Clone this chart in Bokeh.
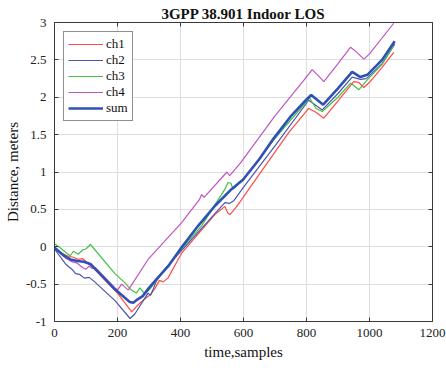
from bokeh.plotting import figure
from bokeh.models import Range1d, LinearAxis, FixedTicker
from bokeh.embed import file_html
from bokeh.resources import INLINE

# ---- data ----
ch1_x = [0, 20, 40, 60, 75, 90, 105, 120, 200, 245, 260, 280, 305, 320, 333, 345, 360, 403,
         509, 541, 550, 557, 575, 599, 622, 744, 807, 830, 855, 900, 950, 965, 982, 1000, 1040, 1077]
ch1_y = [-0.02, -0.08, -0.12, -0.14, -0.17, -0.16, -0.22, -0.27, -0.62, -0.87, -0.80, -0.72, -0.64,
         -0.55, -0.45, -0.47, -0.42, -0.09, 0.43, 0.54, 0.45, 0.43, 0.52, 0.66, 0.80, 1.53, 1.85,
         1.80, 1.72, 1.95, 2.21, 2.20, 2.13, 2.20, 2.40, 2.60]

ch2_x = [0, 35, 55, 67, 80, 95, 110, 125, 192, 240, 255, 297, 305, 315, 324, 350, 541, 555, 570,
         599, 700, 807, 850, 900, 945, 971, 990, 1040, 1080]
ch2_y = [-0.03, -0.23, -0.30, -0.36, -0.37, -0.42, -0.41, -0.46, -0.72, -0.96, -0.90, -0.62, -0.65,
         -0.55, -0.45, -0.30, 0.59, 0.58, 0.62, 0.79, 1.35, 1.96, 1.83, 2.05, 2.27, 2.24, 2.25,
         2.45, 2.71]

ch3_x = [0, 20, 40, 50, 60, 75, 90, 100, 114, 192, 223, 244, 260, 271, 287, 300, 403, 467, 541,
         551, 560, 567, 599, 700, 810, 830, 850, 900, 940, 966, 990, 1040, 1075]
ch3_y = [0.04, -0.02, -0.09, -0.12, -0.06, -0.10, -0.04, -0.03, 0.03, -0.36, -0.48, -0.58, -0.62,
         -0.55, -0.63, -0.58, -0.03, 0.28, 0.77, 0.86, 0.85, 0.77, 0.90, 1.45, 1.99, 1.85, 1.81,
         2.00, 2.19, 2.10, 2.22, 2.44, 2.68]

ch4_x = [0, 35, 55, 72, 90, 100, 110, 120, 130, 192, 200, 213, 234, 297, 403, 460, 467, 475, 541,
         548, 556, 590, 700, 790, 818, 835, 855, 900, 940, 960, 982, 1000, 1077]
ch4_y = [-0.01, -0.15, -0.20, -0.22, -0.28, -0.30, -0.26, -0.29, -0.28, -0.55, -0.58, -0.50, -0.58,
         -0.17, 0.32, 0.63, 0.70, 0.66, 0.97, 1.00, 0.95, 1.12, 1.75, 2.22, 2.37, 2.30, 2.21, 2.45,
         2.67, 2.60, 2.51, 2.58, 2.99]

sum_x = [0, 30, 51, 72, 93, 114, 192, 239, 250, 265, 280, 300, 329, 361, 403, 456, 509, 562, 599,
         650, 696, 749, 800, 815, 853, 900, 945, 971, 993, 1040, 1080]
sum_y = [-0.01, -0.12, -0.17, -0.19, -0.20, -0.23, -0.57, -0.74, -0.75, -0.70, -0.66, -0.55, -0.41,
         -0.26, -0.01, 0.28, 0.545, 0.77, 0.90, 1.17, 1.45, 1.74, 1.97, 2.03, 1.90, 2.12, 2.34,
         2.27, 2.30, 2.50, 2.75]

x_ticks = [0, 200, 400, 600, 800, 1000, 1200]
x_tick_labels = ["0", "200", "400", "600", "800", "1000", "1200"]
y_ticks = [-1, -0.5, 0, 0.5, 1, 1.5, 2, 2.5, 3]
y_tick_labels = ["-1", "-0.5", "0", "0.5", "1", "1.5", "2", "2.5", "3"]

title_text = "3GPP 38.901 Indoor LOS"
x_label = "time,samples"
y_label = "Distance, meters"

FONT = "Liberation Serif"
AXIS_COLOR = "#3a3a3a"

p = figure(width=446, height=368, output_backend="svg", toolbar_location=None,
           x_range=Range1d(0, 1200), y_range=Range1d(-1, 3),
           min_border_left=54, min_border_right=14, min_border_top=22, min_border_bottom=47)

p.title.text = title_text
p.title.align = "center"
p.title.text_font = FONT
p.title.text_font_style = "bold"
p.title.text_font_size = "15px"
p.title.text_color = "#111111"
p.title.standoff = 2
p.title.offset = 0

p.background_fill_color = "white"
p.border_fill_color = "white"
p.outline_line_color = AXIS_COLOR
p.outline_line_width = 1

for ax, ticks, labels in ((p.xaxis[0], x_ticks, x_tick_labels), (p.yaxis[0], y_ticks, y_tick_labels)):
    ax.ticker = FixedTicker(ticks=ticks)
    ax.major_label_overrides = {t: l for t, l in zip(ticks, labels)}
    ax.major_tick_in = 4
    ax.major_tick_out = 0
    ax.minor_tick_line_color = None
    ax.axis_line_color = AXIS_COLOR
    ax.major_tick_line_color = AXIS_COLOR
    ax.major_label_text_font = FONT
    ax.major_label_text_font_size = "13px"
    ax.major_label_text_color = "#222222"
    ax.axis_label_text_font = FONT
    ax.axis_label_text_font_size = "15px"
    ax.axis_label_text_font_style = "normal"
    ax.axis_label_text_color = "#111111"

p.xaxis[0].axis_label = x_label
p.yaxis[0].axis_label = y_label
p.xaxis[0].major_label_standoff = 7
p.yaxis[0].major_label_standoff = 8
p.xaxis[0].axis_label_standoff = 4
p.yaxis[0].axis_label_standoff = 2

# box ticks on top and right (MATLAB style), labels not drawn
right_ax = LinearAxis(ticker=FixedTicker(ticks=y_ticks), major_label_text_font_size="1px",
                      major_label_text_color=None,
                      major_tick_in=4, major_tick_out=0, minor_tick_line_color=None,
                      axis_line_color=AXIS_COLOR, major_tick_line_color=AXIS_COLOR,
                      major_label_standoff=0)
top_ax = LinearAxis(ticker=FixedTicker(ticks=x_ticks), major_label_text_font_size="1px",
                    major_label_text_color=None,
                    major_tick_in=4, major_tick_out=0, minor_tick_line_color=None,
                    axis_line_color=AXIS_COLOR, major_tick_line_color=AXIS_COLOR,
                    major_label_standoff=0)
p.add_layout(right_ax, "right")
p.add_layout(top_ax, "above")

p.xgrid.ticker = FixedTicker(ticks=x_ticks)
p.ygrid.ticker = FixedTicker(ticks=y_ticks)
p.xgrid.grid_line_color = "#dedede"
p.ygrid.grid_line_color = "#dedede"

p.line(ch1_x, ch1_y, line_color="#ff4a4a", line_width=1.2, legend_label="ch1")
p.line(ch2_x, ch2_y, line_color="#4a55b0", line_width=1.2, legend_label="ch2")
p.line(ch3_x, ch3_y, line_color="#44c044", line_width=1.2, legend_label="ch3")
p.line(ch4_x, ch4_y, line_color="#c055c0", line_width=1.2, legend_label="ch4")
p.line(sum_x, sum_y, line_color="#3050b4", line_width=2.6, legend_label="sum")

lg = p.legend[0]
lg.location = "top_left"
lg.margin = 9
lg.padding = 4
lg.spacing = 0
lg.glyph_width = 35
lg.glyph_height = 14
lg.label_height = 14
lg.label_standoff = 3
lg.label_text_font = FONT
lg.label_text_font_size = "13px"
lg.label_text_color = "#111111"
lg.border_line_color = "#222222"
lg.border_line_width = 1
lg.background_fill_color = "white"
lg.background_fill_alpha = 1

open("out.html", "w").write(file_html(p, INLINE))
